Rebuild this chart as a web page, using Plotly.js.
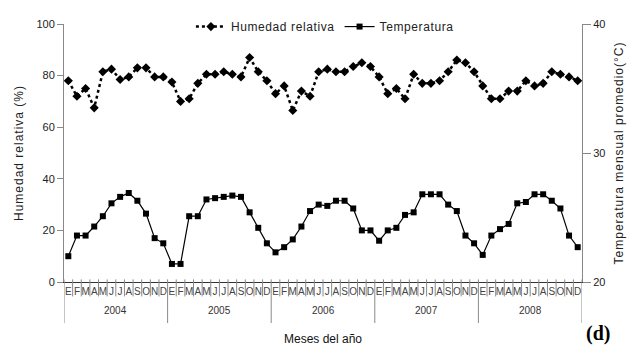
<!DOCTYPE html>
<html>
<head>
<meta charset="utf-8">
<script src="https://cdn.plot.ly/plotly-3.0.1.min.js"></script>
<style>
  html, body { margin: 0; padding: 0; background: #fff; }
  #chart { width: 631px; height: 350px; }
  .ytitle, .y2title { letter-spacing: 1px; }
  .legendtext { letter-spacing: 0.6px; }
</style>
</head>
<body>
<div id="chart"></div>
<script>
// Monthly series 2004-2008
const months = ['E','F','M','A','M','J','J','A','S','O','N','D'];
const years = ['2004','2005','2006','2007','2008'];

// Relative humidity (%)
const humedad = [
  78, 72, 75, 67.5, 81.5, 82.5, 78.5, 79.5, 83, 83, 79.5, 79.5,
  77.5, 70, 71, 77, 80.5, 80.5, 81.5, 80.5, 79.5, 87, 81.5, 78,
  73, 76, 66.5, 74, 72, 81.5, 82.5, 81.5, 81.5, 83.5, 85, 83.5,
  79.5, 73, 75, 71, 80.5, 77, 77, 78, 81.5, 86, 85, 81.5,
  76, 71, 71, 74, 74, 78, 76, 77, 81.5, 80.5, 79.5, 78
];

// Mean monthly temperature (°C)
const temperatura = [
  22.0, 23.6, 23.6, 24.3, 25.1, 26.1, 26.6, 26.9, 26.3, 25.3, 23.4, 23.0,
  21.4, 21.4, 25.1, 25.1, 26.4, 26.5, 26.6, 26.7, 26.6, 25.4, 24.2, 23.0,
  22.3, 22.7, 23.3, 24.3, 25.5, 26.0, 25.9, 26.3, 26.3, 25.7, 24.0, 24.0,
  23.2, 24.0, 24.2, 25.2, 25.4, 26.8, 26.8, 26.8, 26.0, 25.5, 23.6, 23.0,
  22.1, 23.6, 24.1, 24.5, 26.1, 26.2, 26.8, 26.8, 26.3, 25.7, 23.6, 22.7
];

const x = humedad.map((_, i) => i + 1);
const monthLabels = years.flatMap(() => months);

const FONT = 'Liberation Sans, Arial, sans-serif';

const traces = [
  {
    name: 'Humedad relativa',
    x: x, y: humedad, yaxis: 'y',
    type: 'scatter', mode: 'lines+markers',
    line: { color: '#000', width: 2.5, dash: 'dot' },
    marker: { symbol: 'diamond', size: 7, color: '#000' }
  },
  {
    name: 'Temperatura',
    x: x, y: temperatura, yaxis: 'y2',
    type: 'scatter', mode: 'lines+markers',
    line: { color: '#000', width: 1.2 },
    marker: { symbol: 'square', size: 6, color: '#000' }
  }
];

// Month separators and longer year separators below the axis
const shapes = [];
for (let b = 0; b <= x.length; b++) {
  const isYear = b % months.length === 0;
  shapes.push({
    type: 'line', xref: 'x', yref: 'paper',
    x0: b + 0.5, x1: b + 0.5,
    y0: 0.01, y1: isYear ? -0.159 : -0.056,
    line: { color: '#8a8a8a', width: 1 }
  });
}

// Year labels centred under each block of months
const annotations = years.map((yr, k) => ({
  xref: 'x', yref: 'paper',
  x: k * months.length + (months.length + 1) / 2, y: -0.111,
  text: yr, showarrow: false,
  xanchor: 'center', yanchor: 'middle',
  font: { family: FONT, size: 10, color: '#333' }
}));
annotations.push({
  xref: 'paper', yref: 'paper', x: 1.031, y: -0.2,
  text: '(d)', showarrow: false, xanchor: 'center', yanchor: 'middle',
  font: { family: 'Liberation Serif, Times New Roman, serif', size: 20, color: '#000', weight: 'bold' }
});

const layout = {
  width: 631, height: 350,
  margin: { l: 64, r: 49, t: 12, b: 68 },
  paper_bgcolor: '#fff', plot_bgcolor: '#fff',
  font: { family: FONT, size: 11, color: '#222' },
  showlegend: true,
  legend: {
    orientation: 'h', x: 0.245, xanchor: 'left', y: 0.99, yanchor: 'middle',
    bgcolor: 'rgba(0,0,0,0)', font: { family: FONT, size: 12, color: '#222' },
    tracegroupgap: 0
  },
  xaxis: {
    range: [0.5, x.length + 0.5],
    tickmode: 'array', tickvals: x, ticktext: monthLabels,
    tickangle: 0, ticks: '',
    tickfont: { family: FONT, size: 10, color: '#444' },
    showline: true, linecolor: '#333', linewidth: 1,
    showgrid: false, zeroline: false,
    title: { text: 'Meses del año', font: { family: FONT, size: 12, color: '#111' }, standoff: 38 }
  },
  yaxis: {
    range: [0, 100], tickmode: 'array', tickvals: [0, 20, 40, 60, 80, 100],
    ticks: 'outside', ticklen: 6, tickcolor: '#888',
    showline: true, linecolor: '#888', linewidth: 1,
    showgrid: false, zeroline: false,
    tickfont: { family: FONT, size: 11, color: '#222' },
    title: { text: 'Humedad relativa (%)', font: { family: FONT, size: 12, color: '#222' }, standoff: 10 }
  },
  yaxis2: {
    range: [20, 40], tickmode: 'array', tickvals: [20, 30, 40],
    overlaying: 'y', side: 'right',
    ticks: 'outside', ticklen: 8, tickcolor: '#888',
    showline: true, linecolor: '#888', linewidth: 1,
    showgrid: false, zeroline: false,
    tickfont: { family: FONT, size: 11, color: '#222' },
    title: { text: 'Temperatura mensual promedio(°C)', font: { family: FONT, size: 12, color: '#222' }, standoff: 10 }
  },
  shapes: shapes,
  annotations: annotations
};

Plotly.newPlot('chart', traces, layout, { displayModeBar: false, staticPlot: true });
</script>
</body>
</html>
